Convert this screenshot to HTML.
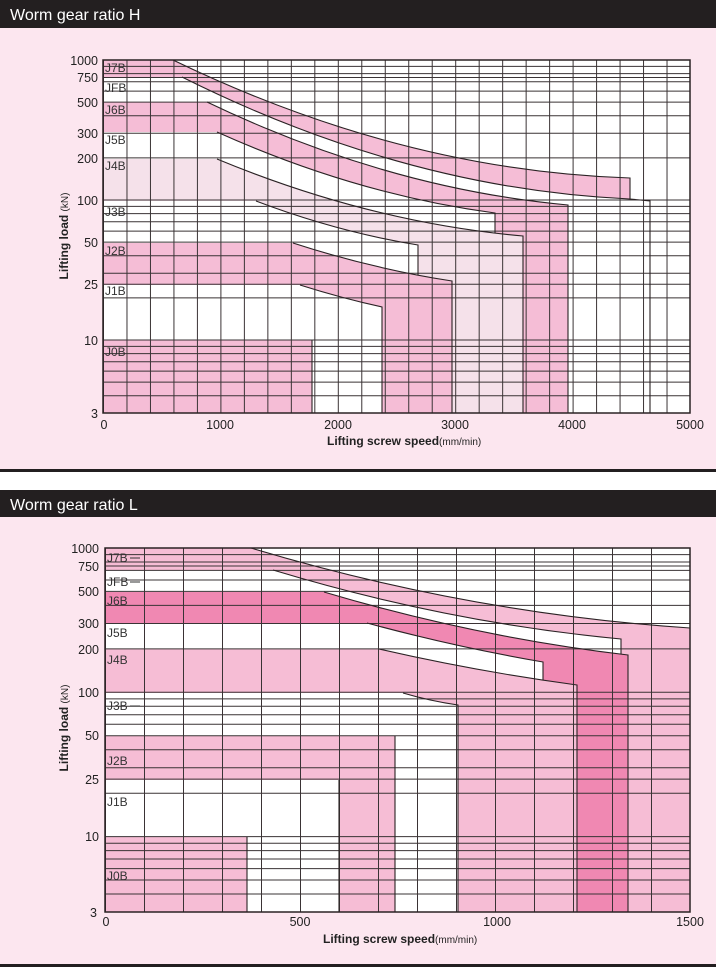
<!DOCTYPE html>
<html><head><meta charset="utf-8">
<style>
html,body{margin:0;padding:0;background:#fff;}
svg{display:block;}
text{font-family:"Liberation Sans",sans-serif;}
</style></head>
<body>
<svg width="716" height="967" viewBox="0 0 716 967" xmlns="http://www.w3.org/2000/svg">
<defs>
<pattern id="vgH" x="103" y="0" width="23.48" height="10" patternUnits="userSpaceOnUse"><line x1="0.5" y1="0" x2="0.5" y2="10" stroke="#3a3335" stroke-width="1"/></pattern>
<pattern id="vgL" x="105" y="0" width="39" height="10" patternUnits="userSpaceOnUse"><line x1="0.5" y1="0" x2="0.5" y2="10" stroke="#3a3335" stroke-width="1"/></pattern>
</defs>

<rect x="0" y="0" width="716" height="470" fill="#fce6ef"/>
<rect x="0" y="0" width="716" height="28" fill="#231f20"/>
<text x="10" y="20" font-size="16" fill="#fff">Worm gear ratio H</text>
<rect x="0" y="469" width="716" height="3" fill="#231f20"/>
<rect x="0" y="490" width="716" height="475" fill="#fce6ef"/>
<rect x="0" y="490" width="716" height="27" fill="#231f20"/>
<text x="10" y="510" font-size="16" fill="#fff">Worm gear ratio L</text>
<rect x="0" y="964" width="716" height="3" fill="#231f20"/>

<!-- ===== H chart ===== -->
<rect x="103" y="60" width="587" height="353" fill="#fff"/>
<path d="M103,159 L217,159 Q370,222.5 523,236 L523,413 L452,413 L452,281 L418,275 L418,245 Q337,231.8 256,201 L103,201 Z" fill="#f5e1ea"/>
<path d="M103,60 L173,60 Q401.5,170.6 630,178 L630,199 Q406,189 182,77 L103,77 Z" fill="#f5bdd6"/>
<path d="M103,102 L207,102 Q387.5,188.5 568,205 L568,413 L523,413 L523,236 L495,233 L495,213 Q356,194.5 217,132 L103,132 Z" fill="#f5bdd6"/>
<path d="M103,243 L293,243 Q372.5,268.8 452,281 L452,413 L382,413 L382,307 Q341,298 300,285 L103,285 Z" fill="#f5bdd6"/>
<rect x="103" y="340" width="209" height="73" fill="#f5bdd6"/>
<rect x="103" y="60" width="587" height="353" fill="url(#vgH)"/>
<path d="M103,66.4H690M103,73.6H690M103,77.5H690M103,81.7H690M103,91.1H690M103,102.1H690M103,115.7H690M103,133.2H690M103,157.9H690M103,200H690M103,206.4H690M103,213.6H690M103,221.7H690M103,231.1H690M103,242.1H690M103,255.7H690M103,273.2H690M103,284.3H690M103,297.9H690M103,340H690M103,346.4H690M103,353.6H690M103,361.7H690M103,371.1H690M103,382.1H690M103,395.7H690" stroke="#3a3335" stroke-width="1" fill="none"/>
<g stroke="#2a2224" stroke-width="1.1" fill="none">
<path d="M173,60 Q401.5,170.6 630,178 L630,199"/>
<path d="M182,77 Q406,189 630,199 L650,201 L650,413"/>
<path d="M207,102 Q387.5,188.5 568,205 L568,413"/>
<path d="M217,132 Q356,194.5 495,213 L495,233"/>
<path d="M217,159 Q370,222.5 523,236 L523,413"/>
<path d="M256,201 Q337,231.8 418,245 L418,275"/>
<path d="M293,243 Q372.5,268.8 452,281 L452,413"/>
<path d="M300,285 Q341,298 382,307 L382,413"/>
<path d="M312,340 L312,413"/>
</g>
<rect x="103" y="60" width="587" height="353" fill="none" stroke="#2a2224" stroke-width="1.5"/>
<g font-size="12" fill="#333">
<text x="105" y="72">J7B</text><text x="105" y="92">JFB</text><text x="105" y="114">J6B</text>
<text x="105" y="144">J5B</text><text x="105" y="170">J4B</text><text x="105" y="216">J3B</text>
<text x="105" y="255">J2B</text><text x="105" y="295">J1B</text><text x="105" y="356">J0B</text>
</g>
<g font-size="12.5" fill="#222" text-anchor="end">
<text x="98" y="65">1000</text><text x="98" y="82">750</text><text x="98" y="107">500</text>
<text x="98" y="138">300</text><text x="98" y="163">200</text><text x="98" y="205">100</text>
<text x="98" y="247">50</text><text x="98" y="289">25</text><text x="98" y="345">10</text>
<text x="98" y="418">3</text>
</g>
<g font-size="12.5" fill="#222" text-anchor="middle">
<text x="104" y="429">0</text><text x="220" y="429">1000</text><text x="338" y="429">2000</text>
<text x="455" y="429">3000</text><text x="572" y="429">4000</text><text x="690" y="429">5000</text>
</g>
<text x="327" y="445" font-size="12" fill="#222" font-weight="bold">Lifting screw speed<tspan font-size="10" font-weight="normal">(mm/min)</tspan></text>
<text transform="translate(68,236) rotate(-90)" text-anchor="middle" font-size="12" fill="#222" font-weight="bold">Lifting load <tspan font-size="10" font-weight="normal">(kN)</tspan></text>

<!-- ===== L chart ===== -->
<rect x="105" y="548" width="585" height="364" fill="#fff"/>
<path d="M105,548 L251,548 Q470,613.6 690,628 L690,912 L628,912 L628,655 L621,654 L621,639 Q447,622.6 273,570 L105,570 Z" fill="#f6bdd5"/>
<path d="M105,649 L379,649 Q477.5,671.6 577,685 L577,912 L458,912 L458,705 Q430,701 403,693 L105,693 Z" fill="#f6bdd5"/>
<path d="M105,592 L324,592 Q476,637.2 628,655 L628,912 L577,912 L577,685 L543,680 L543,662 Q455,646.9 367,623 L105,623 Z" fill="#f088b2"/>
<path d="M105,736 L395,736 L395,912 L339,912 L339,780 L105,780 Z" fill="#f6bdd5"/>
<rect x="105" y="837" width="142" height="75" fill="#f6bdd5"/>
<rect x="105" y="548" width="585" height="364" fill="url(#vgL)"/>
<path d="M105,554.6H690M105,562H690M105,566H690M105,570.4H690M105,580H690M105,591.4H690M105,605.4H690M105,623.5H690M105,648.9H690M105,692.3H690M105,698.9H690M105,706.3H690M105,714.7H690M105,724.3H690M105,735.7H690M105,749.7H690M105,767.7H690M105,779.1H690M105,793.2H690M105,836.6H690M105,843.2H690M105,850.6H690M105,859H690M105,868.6H690M105,880H690M105,894H690" stroke="#3a3335" stroke-width="1" fill="none"/>
<g stroke="#2a2224" stroke-width="1.1" fill="none">
<path d="M251,548 Q470,613.6 690,628"/>
<path d="M273,570 Q447,622.6 621,639 L621,654"/>
<path d="M324,592 Q476,637.2 628,655 L628,912"/>
<path d="M367,623 Q455,646.9 543,662 L543,680"/>
<path d="M379,649 Q477.5,671.6 577,685 L577,912"/>
<path d="M403,693 Q430,701 458,705 L458,912"/>
<path d="M395,736 L395,912"/><path d="M339,780 L339,912"/><path d="M247,837 L247,912"/>
</g>
<rect x="105" y="548" width="585" height="364" fill="none" stroke="#2a2224" stroke-width="1.5"/>
<g font-size="12" fill="#333">
<text x="107" y="562">J7B</text><text x="107" y="586">JFB</text><text x="107" y="605">J6B</text>
<text x="107" y="637">J5B</text><text x="107" y="664">J4B</text><text x="107" y="710">J3B</text>
<text x="107" y="765">J2B</text><text x="107" y="806">J1B</text><text x="107" y="880">J0B</text>
</g>
<g stroke="#333" stroke-width="1"><path d="M130,558H140M130,582H140M130,706H140"/></g>
<g font-size="12.5" fill="#222" text-anchor="end">
<text x="99" y="553">1000</text><text x="99" y="571">750</text><text x="99" y="596">500</text>
<text x="99" y="628">300</text><text x="99" y="654">200</text><text x="99" y="697">100</text>
<text x="99" y="740">50</text><text x="99" y="784">25</text><text x="99" y="841">10</text>
<text x="97" y="917">3</text>
</g>
<g font-size="12.5" fill="#222" text-anchor="middle">
<text x="106" y="926">0</text><text x="300" y="926">500</text><text x="497" y="926">1000</text><text x="690" y="926">1500</text>
</g>
<text x="323" y="943" font-size="12" fill="#222" font-weight="bold">Lifting screw speed<tspan font-size="10" font-weight="normal">(mm/min)</tspan></text>
<text transform="translate(68,728) rotate(-90)" text-anchor="middle" font-size="12" fill="#222" font-weight="bold">Lifting load <tspan font-size="10" font-weight="normal">(kN)</tspan></text>
</svg>
</body></html>
